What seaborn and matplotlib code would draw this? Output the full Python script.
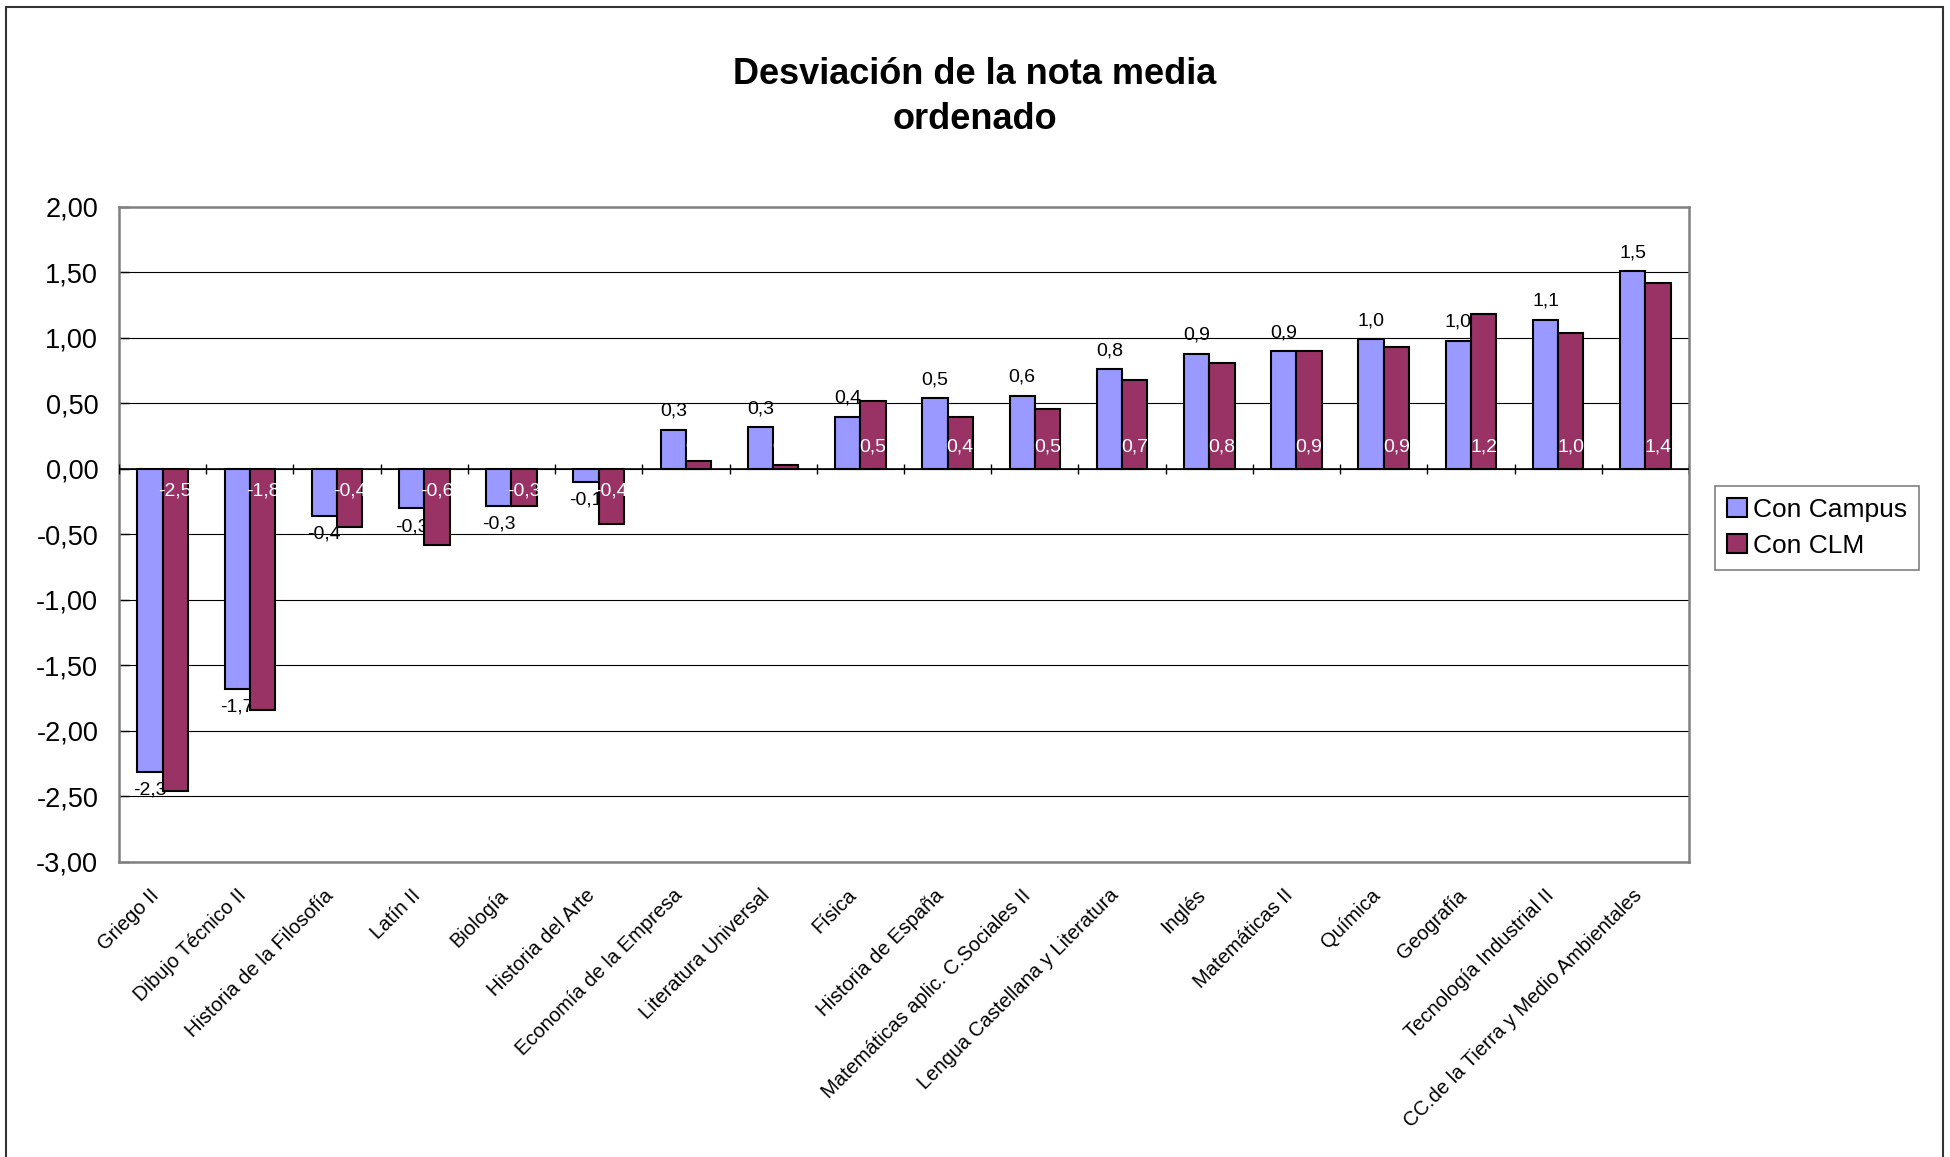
import numpy as np
import pandas as pd
import seaborn as sns
import matplotlib.pyplot as plt
import matplotlib.patches as mpatches

asignaturas = [
    "Griego II", "Dibujo Técnico II", "Historia de la Filosofía", "Latín II",
    "Biología", "Historia del Arte", "Economía de la Empresa", "Literatura Universal",
    "Física", "Historia de España", "Matemáticas aplic. C.Sociales II",
    "Lengua Castellana y Literatura", "Inglés", "Matemáticas II", "Química",
    "Geografía", "Tecnología Industrial II", "CC.de la Tierra y Medio Ambientales",
]
con_campus = [-2.31, -1.68, -0.36, -0.30, -0.28, -0.10, 0.30, 0.32, 0.40,
              0.54, 0.56, 0.76, 0.88, 0.90, 0.99, 0.98, 1.14, 1.51]
con_clm = [-2.46, -1.84, -0.44, -0.58, -0.28, -0.42, 0.06, 0.03, 0.52,
           0.40, 0.46, 0.68, 0.81, 0.90, 0.93, 1.18, 1.04, 1.42]
series = ["Con Campus", "Con CLM"]
colores = ["#9999FF", "#993366"]
yticks = np.arange(-3.0, 2.01, 0.5)

df = pd.DataFrame({
    "Asignatura": asignaturas * 2,
    "Valor": con_campus + con_clm,
    "Serie": [series[0]] * len(asignaturas) + [series[1]] * len(asignaturas),
})


def coma(v, dec=1):
    return f"{v:.{dec}f}".replace(".", ",")


sns.set_style("white")
plt.rcParams["font.family"] = ["Liberation Sans", "DejaVu Sans"]
plt.rcParams["text.color"] = "black"
plt.rcParams["xtick.color"] = "black"
plt.rcParams["ytick.color"] = "black"

W, H = 1950, 1157
fig = plt.figure(figsize=(W / 100, H / 100), dpi=100)
ax = fig.add_axes([119 / W, 1 - 862 / H, (1689 - 119) / W, (862 - 207) / H])

sns.barplot(
    data=df, x="Asignatura", y="Valor", hue="Serie", order=asignaturas,
    hue_order=series, palette=colores, saturation=1, width=0.58,
    edgecolor="black", linewidth=1.5, legend=False, ax=ax,
)

# blue bars under the campus labels, which sit under the CLM bars
for p in ax.containers[0]:
    p.set_zorder(1)
for p in ax.containers[1]:
    p.set_zorder(2.5)

ax.bar_label(ax.containers[0], labels=[coma(v) for v in con_campus],
             padding=7, fontsize=14, color="black", zorder=2)

for bar, v in zip(ax.containers[1], con_clm):
    x = bar.get_x() + bar.get_width() / 2
    ax.annotate(coma(v), (x, 0), xytext=(0, 16 if v >= 0 else -16),
                textcoords="offset points", ha="center", va="center",
                fontsize=14, color="white", zorder=4)

ax.set_ylim(-3, 2)
ax.set_xlim(-0.5, len(asignaturas) - 0.5)
ax.set_yticks(yticks)
ax.set_yticklabels([coma(t, 2) for t in yticks], fontsize=19.5)
ax.set_xticks(range(len(asignaturas)))
ax.set_xticklabels(asignaturas, rotation=45, ha="right", fontsize=14.5)
ax.tick_params(axis="x", length=0, pad=17)
ax.tick_params(axis="y", direction="in", length=7, width=1, color="black", pad=15, left=True)
ax.set_xlabel("")
ax.set_ylabel("")

ax.set_axisbelow(True)
ax.yaxis.grid(True, color="black", linewidth=0.8)
ax.axhline(0, color="black", linewidth=1.2, zorder=3)
ax.vlines(np.arange(len(asignaturas) + 1) - 0.5, -0.04, 0.04,
          colors="black", linewidth=1, zorder=3)
for s in ax.spines.values():
    s.set_color("#808080")
    s.set_linewidth(1.8)

handles = [mpatches.Patch(facecolor=c, edgecolor="black", linewidth=1.5, label=s)
           for c, s in zip(colores, series)]
leg = fig.legend(handles=handles, loc="upper left",
                 bbox_to_anchor=(1715 / W, 1 - 486 / H), fontsize=19,
                 frameon=True, fancybox=False, handlelength=0.75, handleheight=0.75,
                 handletextpad=0.25, borderpad=0.45, labelspacing=0.45,
                 borderaxespad=0)
leg.get_frame().set_edgecolor("#606060")
leg.get_frame().set_linewidth(1.2)

fig.text(0.5, 1 - 97 / H, "Desviación de la nota media\nordenado",
         ha="center", va="center", fontsize=26, fontweight="bold", linespacing=1.35)

fig.patches.append(mpatches.Rectangle((6 / W, -0.02), (1943 - 6) / W, 1.02 - 7 / H,
                                      transform=fig.transFigure, fill=False,
                                      edgecolor="#333333", linewidth=1.5))

plt.savefig("out.png", dpi=100)
